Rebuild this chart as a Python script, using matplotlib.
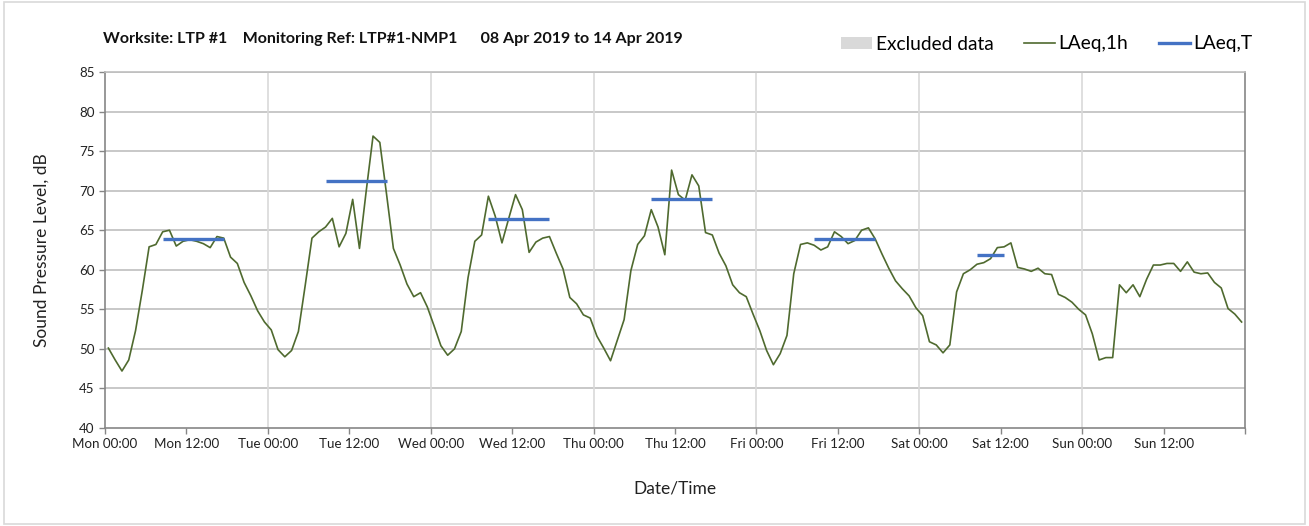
import numpy as np
import matplotlib
matplotlib.use('Agg')
import matplotlib.pyplot as plt
from matplotlib.patches import Patch, Rectangle
from matplotlib.lines import Line2D

plt.rcParams['font.family'] = ['Lato', 'DejaVu Sans']

# hourly LAeq,1h, Mon 00:00 .. Sun 23:00 (points plotted at mid-hour)
days = ['Mon', 'Tue', 'Wed', 'Thu', 'Fri', 'Sat', 'Sun']
laeq_1h = [
    # Mon
    50.1, 48.6, 47.2, 48.6, 52.3, 57.4, 62.9, 63.2, 64.8, 65.0, 63.0, 63.6,
    63.8, 63.6, 63.3, 62.8, 64.2, 64.0, 61.6, 60.8, 58.4, 56.7, 54.8, 53.4,
    # Tue
    52.4, 49.9, 49.0, 49.8, 52.2, 58.0, 64.0, 64.8, 65.4, 66.5, 62.9, 64.6,
    68.9, 62.7, 70.0, 76.9, 76.1, 69.5, 62.7, 60.6, 58.2, 56.6, 57.1, 55.3,
    # Wed
    52.9, 50.4, 49.2, 50.0, 52.2, 59.0, 63.6, 64.4, 69.3, 66.8, 63.4, 66.5,
    69.5, 67.6, 62.2, 63.5, 64.0, 64.2, 62.1, 60.1, 56.5, 55.7, 54.3, 53.9,
    # Thu
    51.6, 50.1, 48.5, 51.1, 53.7, 59.9, 63.2, 64.3, 67.6, 65.4, 61.9, 72.6,
    69.5, 68.8, 72.0, 70.6, 64.7, 64.4, 62.1, 60.5, 58.1, 57.1, 56.6, 54.4,
    # Fri
    52.3, 49.8, 48.0, 49.4, 51.7, 59.5, 63.2, 63.4, 63.1, 62.5, 62.9, 64.8,
    64.2, 63.3, 63.7, 65.0, 65.3, 63.9, 62.0, 60.2, 58.6, 57.6, 56.7, 55.2,
    # Sat
    54.2, 50.9, 50.5, 49.5, 50.5, 57.2, 59.5, 60.0, 60.7, 60.9, 61.4, 62.8,
    62.9, 63.4, 60.3, 60.1, 59.8, 60.2, 59.5, 59.4, 56.9, 56.5, 55.9, 55.0,
    # Sun
    54.3, 51.9, 48.6, 48.9, 48.9, 58.1, 57.1, 58.1, 56.6, 58.8, 60.6, 60.6,
    60.8, 60.8, 59.8, 61.0, 59.7, 59.5, 59.6, 58.4, 57.7, 55.1, 54.4, 53.4,
]

# LAeq,T over each day's monitoring period (hour of first / last sample)
laeq_t_days = ['Mon', 'Tue', 'Wed', 'Thu', 'Fri', 'Sat']
laeq_t_values = [63.9, 71.2, 66.4, 68.9, 63.95, 61.9]
laeq_t_first = [8, 8, 8, 8, 8, 8]
laeq_t_last = [17, 17, 17, 17, 17, 12]

title = 'Worksite: LTP #1    Monitoring Ref: LTP#1-NMP1      08 Apr 2019 to 14 Apr 2019'

GREEN = '#4f6a2f'
BLUE = '#4472c4'
HGRID = '#bfbfbf'
VGRID = '#d9d9d9'
AXIS = '#868686'

hours = np.arange(len(laeq_1h)) + 0.5
levels = np.array(laeq_1h)

# expand LAeq,T onto the hourly grid (NaN outside the periods)
laeq_t = np.full(len(laeq_1h), np.nan)
for d, v, h0, h1 in zip(laeq_t_days, laeq_t_values, laeq_t_first, laeq_t_last):
    k = days.index(d) * 24
    laeq_t[k + h0:k + h1 + 1] = v

fig = plt.figure(figsize=(13.09, 5.26), dpi=100)
ax = fig.add_axes([105 / 1309, 1 - 428 / 526, 1140 / 1309, 356 / 526])

ax.plot(hours, levels, color=GREEN, lw=1.2, zorder=3)
ax.plot(hours, laeq_t, color=BLUE, lw=2.4, solid_capstyle='butt', zorder=4)

ax.set_xlim(0, 24 * len(days))
ax.set_ylim(40, 85)
ax.set_yticks(np.arange(40, 86, 5))

xt = np.arange(0, 24 * len(days) + 1, 12)
xl = ['%s %02d:00' % (days[int(t // 24)], t % 24) if t < 24 * len(days) else ''
      for t in xt]
ax.set_xticks(xt)
ax.set_xticklabels(xl)
ax.tick_params(axis='both', direction='out', length=4, width=1, color=AXIS,
               labelsize=9.6, labelcolor='#222222')

# gridlines: horizontal every 5 dB, vertical at midnight only
for y in np.arange(45, 86, 5):
    ax.axhline(y, color=HGRID, lw=1.2, zorder=1)
for t in np.arange(24, 24 * len(days), 24):
    ax.axvline(t, color=VGRID, lw=1.2, zorder=1)

for s in ['left', 'bottom', 'right']:
    ax.spines[s].set_color(AXIS)
    ax.spines[s].set_linewidth(1.2)
ax.spines['top'].set_color(HGRID)
ax.spines['top'].set_linewidth(1.2)

ax.set_ylabel('Sound Pressure Level, dB', fontsize=12.5, labelpad=21, color='#222222')
ax.set_xlabel('Date/Time', fontsize=12.5, labelpad=22, color='#222222')

fig.text(103 / 1309, 1 - 39 / 526, title, fontsize=11.5, fontweight='bold',
         va='center', ha='left', color='#111111')

handles = [Patch(facecolor='#d9d9d9', edgecolor='none', label='Excluded data'),
           Line2D([], [], color=GREEN, lw=1.2, label='LAeq,1h'),
           Line2D([], [], color=BLUE, lw=2.4, label='LAeq,T')]
fig.legend(handles=handles, loc='center right', ncol=3, frameon=False,
           bbox_to_anchor=(1270 / 1309, 1 - 44 / 526), fontsize=13.8,
           handlelength=1.6, handleheight=0.6, handletextpad=0.2,
           columnspacing=1.6)

# light chart-area border
fig.patches.append(Rectangle((0.003, 0.004), 0.994, 0.992, transform=fig.transFigure,
                             fill=False, edgecolor='#d9d9d9', lw=1.2))

fig.savefig('out.png', dpi=100)
